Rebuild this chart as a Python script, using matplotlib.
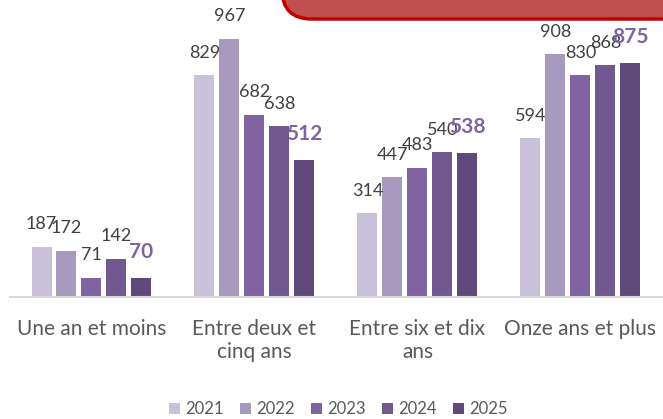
import numpy as np
import matplotlib
matplotlib.use('Agg')
import matplotlib.pyplot as plt
from matplotlib.patches import FancyBboxPatch

plt.rcParams['font.family'] = ['Lato', 'DejaVu Sans']

# data
categories = ['Une an et moins', 'Entre deux et\ncinq ans', 'Entre six et dix\nans', 'Onze ans et plus']
years = ['2021', '2022', '2023', '2024', '2025']
values = {
    '2021': [187, 829, 314, 594],
    '2022': [172, 967, 447, 908],
    '2023': [71, 682, 483, 830],
    '2024': [142, 638, 540, 868],
    '2025': [70, 512, 538, 875],
}
colors = ['#C9C1DA', '#A899BF', '#8064A2', '#71588F', '#5F497A']

fig = plt.figure(figsize=(6.63, 4.19), dpi=100)
ax = fig.add_axes([10 / 663, 122.5 / 419, 652 / 663, 266.7 / 419])

x = np.arange(len(categories))
width = 20 / 163
step = 25 / 163

for i, year in enumerate(years):
    pos = x + (i - 2) * step
    ax.bar(pos, values[year], width, color=colors[i], label=year, zorder=2)
    for xp, v in zip(pos, values[year]):
        if year == '2025':
            # last year is highlighted in bold purple
            ax.annotate(str(v), (xp, v), xytext=(0, 18.5), textcoords='offset points',
                        ha='center', va='center', fontsize=15, fontweight='bold', color='#8064A2')
        else:
            ax.annotate(str(v), (xp, v), xytext=(0, 16), textcoords='offset points',
                        ha='center', va='center', fontsize=13, color='#404040')

ax.set_xlim(-0.5, 3.5)
ax.set_ylim(0, 1000)
ax.set_xticks(x)
ax.set_xticklabels(categories, fontsize=15, color='#595959', linespacing=1.2)
ax.tick_params(axis='x', length=0, pad=16)
ax.set_yticks([])
for s in ['top', 'right', 'left']:
    ax.spines[s].set_visible(False)
ax.spines['bottom'].set_color('#D9D9D9')
ax.spines['bottom'].set_linewidth(1.5)

ax.legend(loc='center', bbox_to_anchor=(0.51, 10 / 419), bbox_transform=fig.transFigure,
          ncol=5, frameon=False, fontsize=12, labelcolor='#595959',
          handlelength=0.65, handleheight=0.65, handletextpad=0.3, columnspacing=1.0)

# red rounded box at the top, cut by the edge of the image
box = FancyBboxPatch((282 / 663, 1 - 19 / 419), 420 / 663, 0.2,
                     boxstyle='round,pad=0,rounding_size=0.045',
                     transform=fig.transFigure, facecolor='#C0504D',
                     edgecolor='#C00000', linewidth=2.5, mutation_aspect=663 / 419)
fig.patches.append(box)

fig.savefig('out.png', dpi=100)
